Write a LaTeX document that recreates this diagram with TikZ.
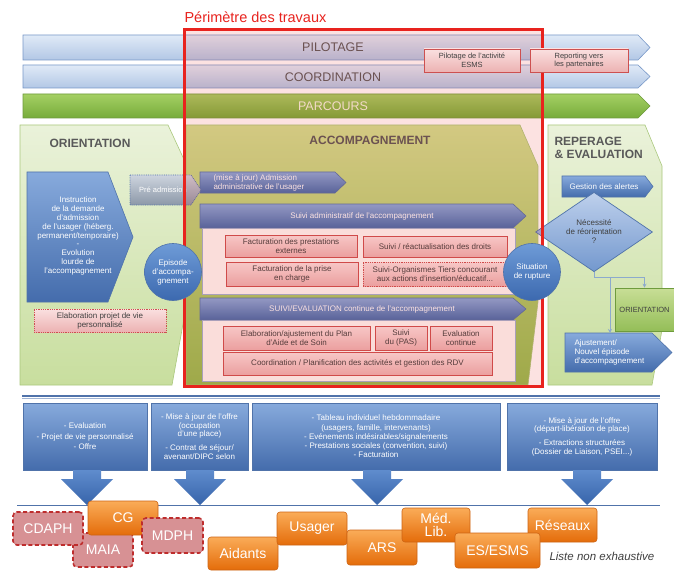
\documentclass[tikz,border=0pt]{standalone}
\usepackage{fontspec}
\setmainfont{Liberation Sans}
\usetikzlibrary{shapes.geometric,arrows.meta}
\definecolor{hdrgray}{RGB}{89,89,89}
\definecolor{dtxt}{RGB}{64,64,64}
\definecolor{bandtop}{RGB}{224,234,247}
\definecolor{bandbot}{RGB}{178,199,229}
\definecolor{bandline}{RGB}{120,152,200}
\definecolor{grtop}{RGB}{165,208,100}
\definecolor{grbot}{RGB}{118,172,58}
\definecolor{grline}{RGB}{110,155,60}
\definecolor{lgtop}{RGB}{234,242,218}
\definecolor{lgbot}{RGB}{200,222,158}
\definecolor{lgline}{RGB}{170,200,125}
\definecolor{actop}{RGB}{208,226,145}
\definecolor{acbot}{RGB}{148,190,80}
\definecolor{bltop}{RGB}{135,170,220}
\definecolor{blbot}{RGB}{68,108,172}
\definecolor{blline}{RGB}{80,115,170}
\definecolor{pktop}{RGB}{250,224,224}
\definecolor{pkbot}{RGB}{236,178,178}
\definecolor{pkline}{RGB}{205,80,80}
\definecolor{contfill}{RGB}{253,249,246}
\definecolor{contline}{RGB}{160,178,210}
\definecolor{ortop}{RGB}{250,172,88}
\definecolor{orbot}{RGB}{228,108,10}
\definecolor{orline}{RGB}{205,100,20}
\definecolor{dfill}{RGB}{215,145,148}
\definecolor{dline}{RGB}{190,45,45}
\definecolor{perim}{RGB}{232,35,30}
\definecolor{conncol}{RGB}{140,170,205}
\definecolor{gytop}{RGB}{205,212,222}
\definecolor{gybot}{RGB}{140,152,168}
\definecolor{ltblue}{RGB}{160,180,212}
\newcommand\chev[6][]{\path[#1] (#2,#3) -- ({#4-#6},#3) -- (#4,{(#3+#5)/2}) -- ({#4-#6},#5) -- (#2,#5) -- cycle;}
\newcommand\dnarrow[1]{\path[dnarr] ({#1-14},470) -- ({#1+14},470) -- ({#1+14},479) -- ({#1+26},479) -- (#1,505) -- ({#1-26},479) -- ({#1-14},479) -- cycle;}
\begin{document}
\begin{tikzpicture}[x=1pt,y=-1pt,
  band/.style={top color=bandtop, bottom color=bandbot, draw=bandline, line width=0.6pt},
  gband/.style={top color=grtop, bottom color=grbot, draw=grline, line width=0.6pt},
  bandtxt/.style={font=\fontsize{12.5}{14}\selectfont, text=hdrgray},
  hdr/.style={font=\fontsize{12}{13.5}\selectfont\bfseries, text=hdrgray, align=left},
  lgpanel/.style={top color=lgtop, bottom color=lgbot, draw=lgline, line width=0.6pt},
  acpanel/.style={top color=actop, bottom color=acbot, draw=lgline, line width=0.6pt},
  bluesh/.style={top color=bltop, bottom color=blbot, draw=blline, line width=0.6pt},
  wsm/.style={font=\fontsize{8}{9}\selectfont, text=white, align=center},
  dsm/.style={font=\fontsize{8}{9}\selectfont, text=dtxt, align=center},
  pinkbox/.style={rectangle, top color=pktop, bottom color=pkbot, draw=pkline, line width=0.8pt, dsm, inner sep=0pt},
  pinkdot/.style={pinkbox, densely dotted, line width=1pt},
  contbox/.style={fill=contfill, draw=contline, line width=0.6pt},
  bcircle/.style={circle, inner sep=0pt, minimum size=57pt, top color={rgb,255:red,110;green,155;blue,215}, bottom color={rgb,255:red,60;green,105;blue,175}, draw=blline, line width=0.6pt, wsm},
  connline/.style={draw=conncol, line width=0.8pt},
  botbox/.style={rectangle, bluesh, wsm, inner sep=0pt, minimum height=67pt},
  dnarr/.style={top color={rgb,255:red,95;green,140;blue,205}, bottom color={rgb,255:red,55;green,100;blue,170}},
  orbox/.style={rectangle, rounded corners=3pt, top color=ortop, bottom color=orbot, draw=orline, line width=0.6pt, text=white, font=\fontsize{14}{12.5}\selectfont, inner sep=0pt, align=center},
  dbox/.style={rectangle, rounded corners=4pt, fill=dfill, draw=dline, dash pattern=on 4pt off 2.5pt, line width=1.6pt, text=white, font=\fontsize{14}{12.5}\selectfont, inner sep=0pt}
]
\useasboundingbox (0,0) rectangle (674,572);
\fill[white] (0,0) rectangle (674,572);

% title
\node[anchor=west, text=perim, font=\fontsize{14.5}{16}\selectfont] (title) at (181,17) {Périmètre des travaux};

% top bands
\chev[band]{23}{35}{650}{60}{12}
\chev[band]{23}{65}{650}{88}{12}
\chev[gband]{23}{94}{650}{118}{12}
\node[bandtxt] (pil) at (333,47.5) {PILOTAGE};
\node[bandtxt] (coo) at (333,77) {COORDINATION};
\node[bandtxt, text={rgb,255:red,245;green,245;blue,225}] (par) at (333,106) {PARCOURS};

% panels
\path[lgpanel] (20,125) -- (168,125) -- (187,166) -- (187,302) -- (172,385) -- (20,385) -- cycle;
\path[acpanel] (186,125) -- (520,125) -- (538,166) -- (538,302) -- (528,385) -- (186,385) -- cycle;
\path[lgpanel] (548,125) -- (645,125) -- (662,166) -- (662,330) -- (652,385) -- (548,385) -- cycle;

\node[hdr] (orih) at (90,143) {ORIENTATION};
\node[hdr] (acch) at (370,140) {ACCOMPAGNEMENT};
\node[hdr, anchor=north west, font=\fontsize{12}{13}\selectfont\bfseries] (reph) at (551,134) {REPERAGE\\\& EVALUATION};

% orientation content
\chev[bluesh]{27}{172}{133}{302}{25}
\node[wsm, font=\fontsize{8}{8.8}\selectfont] (instr) at (78,236) {Instruction\\de la demande\\d'admission\\de l'usager (héberg.\\permanent/temporaire)\\-\\Evolution\\lourde de\\l'accompagnement};
\node[pinkdot, minimum width=132pt, minimum height=23pt] (epv) at (100,320.5) {Elaboration projet de vie\\personnalisé};

% accompagnement content
\chev[bluesh]{200}{172}{346}{193}{11}
\node[wsm, anchor=west, align=left] (adm) at (210,182.5) {(mise à jour) Admission\\administrative de l'usager};

\chev[bluesh]{200}{204}{526}{228}{13}
\node[wsm] (sadm) at (362,216) {Suivi administratif de l'accompagnement};
\path[contbox] (202,228) rectangle (515,294);
\node[pinkbox, minimum width=132pt, minimum height=22pt] (fpe) at (291,246) {Facturation des prestations\\externes};
\node[pinkbox, minimum width=144pt, minimum height=21pt] (srd) at (435,246.5) {Suivi / réactualisation des droits};
\node[pinkbox, minimum width=132pt, minimum height=24pt] (fpc) at (292,274) {Facturation de la prise\\en charge};
\node[pinkdot, minimum width=144pt, minimum height=24pt] (sot) at (435,274) {Suivi-Organismes Tiers concourant\\aux actions d'insertion/éducatif...};

\chev[bluesh]{200}{298}{526}{320}{13}
\node[wsm] (seval) at (362,309) {SUIVI/EVALUATION continue de l'accompagnement};
\path[contbox] (202,320) rectangle (515,381);
\node[pinkbox, minimum width=147pt, minimum height=24pt] (eps) at (296.5,338) {Elaboration/ajustement du Plan\\d'Aide et de Soin};
\node[pinkbox, minimum width=52pt, minimum height=24pt] (spas) at (401,338) {Suivi\\du (PAS)};
\node[pinkbox, minimum width=62pt, minimum height=24pt] (ec) at (461,338) {Evaluation\\continue};
\node[pinkbox, minimum width=269pt, minimum height=23pt] (cp) at (357.5,363.5) {Coordination / Planification des activités et gestion des RDV};

% pré admission
\chev[top color=gytop, bottom color=gybot, draw=blline, densely dotted, line width=0.8pt]{130}{175}{201}{205}{10}
\node[wsm, font=\fontsize{7.5}{9}\selectfont] (pre) at (163,190) {Pré admission};

% repérage content
\chev[bluesh]{562}{176}{653}{197}{8}
\node[wsm] (gal) at (604,186.5) {Gestion des alertes};
\node[diamond, inner sep=0pt, minimum width=117pt, minimum height=70pt, top color={rgb,255:red,190;green,208;blue,236}, bottom color={rgb,255:red,115;green,152;blue,206}, draw=blline, line width=0.7pt, dsm] (dia) at (594,232) {Nécessité\\de réorientation\\?};
\node[rectangle, inner sep=0pt, minimum width=59pt, minimum height=43pt, top color={rgb,255:red,200;green,222;blue,150}, bottom color={rgb,255:red,148;green,190;blue,88}, draw=grline, line width=0.6pt, dsm, font=\fontsize{7.5}{9}\selectfont] (ori2) at (644.5,309.5) {ORIENTATION};
\chev[bluesh]{565}{333}{672}{372}{20}
\node[wsm, anchor=west, align=left] (aju) at (571,352.5) {Ajustement/\\Nouvel épisode\\d'accompagnement};
\coordinate (j1) at (594,277);
\coordinate (j3) at (610,277);
\coordinate (ajtop) at (610,333);
\draw[connline] (dia.south) -- (j1);
\draw[connline, -{Stealth[length=4pt,width=4pt]}] (j1) -| (ori2.north);
\draw[connline, -{Stealth[length=4pt,width=4pt]}] (j3) -- (ajtop);

% perimeter overlay
\fill[perim, fill opacity=0.13] (184,30) rectangle (542,386);
\draw[perim, line width=3pt] (184,30) rectangle (542,386);

% top pink boxes
\node[pinkbox, minimum width=96pt, minimum height=23pt, font=\fontsize{7.5}{8.5}\selectfont] (pesms) at (472,60.5) {Pilotage de l'activité\\ESMS};
\node[pinkbox, minimum width=98pt, minimum height=23pt, font=\fontsize{7.5}{8.5}\selectfont] (rep) at (579,60.5) {Reporting vers\\les partenaires};

% circles
\node[bcircle] (epi) at (173,272) {Episode\\d'accompa-\\gnement};
\node[bcircle] (rup) at (532,272) {Situation\\de rupture};

% lower section
\draw[line width=2pt, blline] (22,396) -- (660,396);
\draw[line width=0.8pt, ltblue] (22,398.5) -- (660,398.5);

\node[botbox, minimum width=124pt, font=\fontsize{8}{10.5}\selectfont] (b1) at (85,436.5) {- Evaluation\\- Projet de vie personnalisé\\- Offre};
\node[botbox, minimum width=97pt, font=\fontsize{8}{8.6}\selectfont] (b2) at (199.5,436.5) {- Mise à jour de l'offre\\(occupation\\d'une place)\\[5pt]- Contrat de séjour/\\avenant/DIPC selon};
\node[botbox, minimum width=248pt, font=\fontsize{8}{9.3}\selectfont] (b3) at (376,436.5) {- Tableau individuel hebdommadaire\\(usagers, famille, intervenants)\\- Evénements indésirables/signalements\\- Prestations sociales (convention, suivi)\\- Facturation};
\node[botbox, minimum width=150pt, font=\fontsize{8}{8.6}\selectfont] (b4) at (582,436.5) {- Mise à jour de l'offre\\(départ-libération de place)\\[5pt]- Extractions structurées\\(Dossier de Liaison, PSEI...)};

\dnarrow{87}
\dnarrow{200}
\dnarrow{377}
\dnarrow{587}

\draw[line width=1pt, blline] (17,505) -- (660,505);

% actors
\node[dbox, minimum width=60pt, minimum height=34pt] (maia) at (103,550) {MAIA};
\node[dbox, minimum width=70pt, minimum height=33pt] (cdaph) at (48,528.5) {CDAPH};
\node[orbox, minimum width=70pt, minimum height=34pt] (cg) at (123,518) {CG};
\node[dbox, minimum width=61pt, minimum height=35pt] (mdph) at (172.5,535.5) {MDPH};
\node[orbox, minimum width=70pt, minimum height=33pt] (aid) at (243,553.5) {Aidants};
\node[orbox, minimum width=70pt, minimum height=33pt] (usa) at (312,528.5) {Usager};
\node[orbox, minimum width=70pt, minimum height=35pt] (ars) at (382,547.5) {ARS};
\node[orbox, minimum width=68pt, minimum height=34pt] (med) at (436,525) {Méd.\\Lib.};
\node[orbox, minimum width=69pt, minimum height=34pt] (res) at (562.5,525) {Réseaux};
\node[orbox, minimum width=85pt, minimum height=35pt] (es) at (497.5,550.5) {ES/ESMS};
\node[anchor=west, text=dtxt, font=\fontsize{11.5}{13}\selectfont\itshape] (liste) at (546,556) {Liste non exhaustive};
\end{tikzpicture}
\end{document}
